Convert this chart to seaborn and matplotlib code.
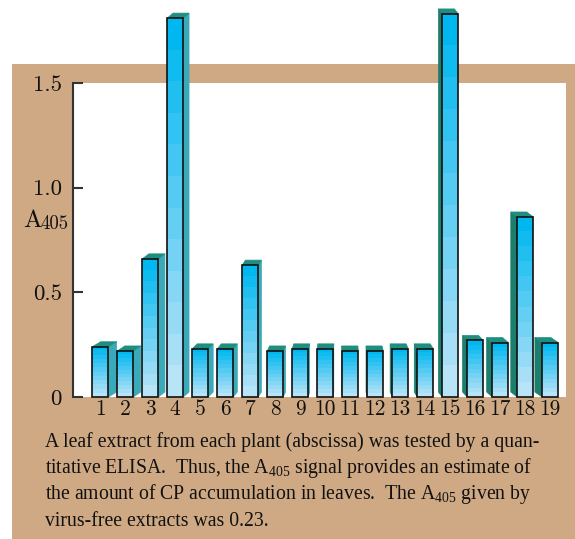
import numpy as np
import pandas as pd
import matplotlib
matplotlib.use("Agg")
import matplotlib.pyplot as plt
import seaborn as sns
from matplotlib.patches import Rectangle, Polygon
from matplotlib.colors import LinearSegmentedColormap
from matplotlib.transforms import IdentityTransform

# ELISA readings (A405) for each tested plant
plants = [str(i) for i in range(1, 20)]
a405 = [0.24, 0.22, 0.66, 1.81, 0.23, 0.23, 0.63, 0.22, 0.23, 0.23,
        0.22, 0.22, 0.23, 0.23, 1.83, 0.27, 0.26, 0.86, 0.26]
y_ticks = [0, 0.5, 1.0, 1.5]
y_ticklabels = ["0", "0.5", "1.0", "1.5"]

caption_lines = [
    "A leaf extract from each plant (abscissa) was tested by a quan-",
    "titative ELISA.  Thus, the A$_{405}$ signal provides an estimate of",
    "the amount of CP accumulation in leaves.  The A$_{405}$ given by",
    "virus-free extracts was 0.23.",
]

TAN = "#cea983"
FACE_TOP = "#00b7ef"
FACE_BOTTOM = "#b8e4f8"
SIDE_RIGHT = "#3aa9b9"
SIDE_LEFT = "#1c7e6d"
TOP_FACE = "#1f8e7f"

sns.set_theme(style="white")
plt.rcParams["mathtext.fontset"] = "custom"
plt.rcParams["mathtext.rm"] = "Liberation Serif"
plt.rcParams["mathtext.it"] = "Liberation Serif:italic"

W, H = 575, 539
DPI = 100
fig = plt.figure(figsize=(W / DPI, H / DPI), dpi=DPI)
fig.patch.set_facecolor("white")

# tan panel behind the chart and caption
fig.add_artist(Rectangle((12 / W, 0), 1 - 12 / W, (H - 64) / H,
                         transform=fig.transFigure, facecolor=TAN,
                         edgecolor="none", zorder=-1))

ax = fig.add_axes([73 / W, (H - 397) / H, (566 - 73) / W, (397 - 83) / H])
ax.set_facecolor("white")

df = pd.DataFrame({"plant": plants, "a405": a405})
sns.barplot(data=df, x="plant", y="a405", order=plants, width=0.64,
            color=FACE_TOP, saturation=1, ax=ax, errorbar=None)

xlim = (-1.092, 18.63)
ylim = (0, 1.5)
ax.set_xlim(*xlim)
ax.set_ylim(*ylim)

cmap = LinearSegmentedColormap.from_list("face", [FACE_BOTTOM, FACE_TOP])
bands = np.linspace(0, 1, 12).reshape(-1, 1)

fig.canvas.draw()
vanish_px = ax.transData.transform((9.6, 0))[0]

for p in list(ax.patches):
    x0, w, h = p.get_x(), p.get_width(), p.get_height()
    # gradient front face, clipped to the bar rectangle
    im = ax.imshow(bands, cmap=cmap, origin="lower", aspect="auto",
                   interpolation="nearest",
                   extent=(x0, x0 + w, 0, h), zorder=2)
    im.set_clip_path(p)
    p.set_facecolor("none")
    p.set_edgecolor("#111111")
    p.set_linewidth(1.2)
    p.set_zorder(3)
    p.set_clip_on(False)

    # 3D depth faces, drawn in pixel space
    (px0, py0) = ax.transData.transform((x0, 0))
    (px1, py1) = ax.transData.transform((x0 + w, h))
    cx = 0.5 * (px0 + px1)
    dx = -0.035 * (cx - vanish_px)
    dy = 5.0
    if dx >= 0:
        side = [(px1, py0), (px1 + dx, py0 + dy), (px1 + dx, py1 + dy), (px1, py1)]
        side_col = SIDE_RIGHT
    else:
        side = [(px0, py0), (px0 + dx, py0 + dy), (px0 + dx, py1 + dy), (px0, py1)]
        side_col = SIDE_LEFT
    top = [(px0, py1), (px1, py1), (px1 + dx, py1 + dy), (px0 + dx, py1 + dy)]
    for pts, col in ((side, side_col), (top, TOP_FACE)):
        poly = Polygon(pts, closed=True, facecolor=col, edgecolor=col,
                       linewidth=0.5, transform=IdentityTransform(),
                       clip_on=False, zorder=1.5)
        ax.add_artist(poly)

ax.set_xlim(*xlim)
ax.set_ylim(*ylim)

for s in ["top", "right", "bottom"]:
    ax.spines[s].set_visible(False)
ax.spines["left"].set_color("#333333")
ax.spines["left"].set_linewidth(1.5)

ax.set_yticks(y_ticks)
ax.set_yticklabels(y_ticklabels, fontfamily="cmr10", fontsize=16.5)
ax.tick_params(axis="y", direction="in", length=7.5, width=1.5,
               color="#333333", pad=8, left=True)
ax.tick_params(axis="x", length=0, pad=2)
for lbl in ax.get_xticklabels():
    lbl.set_fontfamily("cmr10")
    lbl.set_fontsize(15.5)
    lbl.set_color("#111111")
for lbl in ax.get_yticklabels():
    lbl.set_color("#111111")
ax.set_xlabel("")
ax.set_ylabel("")

# y-axis quantity label
fig.text(23 / W, (H - 227) / H, "A", fontfamily="cmr10", fontsize=18,
         color="#111111", ha="left", va="baseline")
fig.text(40 / W, (H - 229) / H, "405", fontfamily="cmr10", fontsize=13.5,
         color="#111111", ha="left", va="baseline")

# caption
baselines = [447, 473, 499, 526]
for line, yb in zip(caption_lines, baselines):
    fig.text(45 / W, (H - yb) / H, line, fontfamily="Liberation Serif",
             fontsize=14.2, color="#111111", ha="left", va="baseline")

fig.savefig("out.png", dpi=DPI, facecolor=fig.get_facecolor())
